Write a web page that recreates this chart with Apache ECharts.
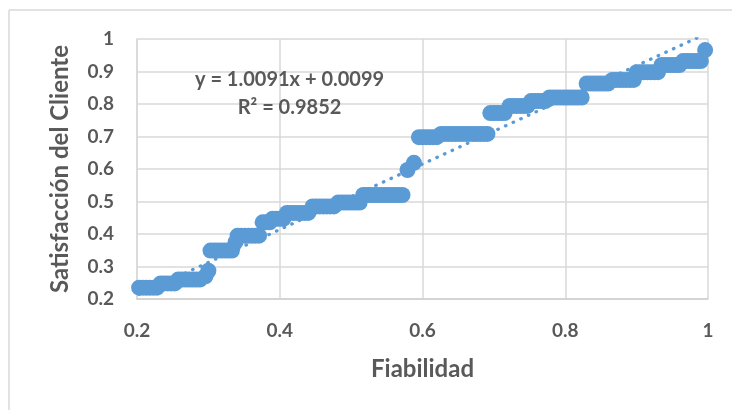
<!DOCTYPE html>
<html>
<head>
<meta charset="utf-8">
<script src="https://cdn.jsdelivr.net/npm/echarts@6/dist/echarts.min.js"></script>
<style>
html,body{margin:0;padding:0;background:#fff;}
#chart{width:732px;height:410px;}
</style>
</head>
<body>
<div id="chart"></div>
<script>
// Fiabilidad (x) values, grouped by step
const fiabilidad = [
  0.203,0.208,0.213,0.218,0.223,0.228,
  0.233,0.238,0.243,0.248,0.253,
  0.258,0.263,0.268,0.273,0.278,0.283,0.288,
  0.296,0.300,
  0.303,0.308,0.313,0.318,0.323,0.328,0.333,
  0.338,
  0.341,0.346,0.351,0.356,0.361,0.366,0.371,
  0.376,0.381,0.386,
  0.390,0.395,0.400,0.405,
  0.410,0.415,0.420,0.425,0.430,0.435,0.440,
  0.446,0.451,0.456,0.461,0.466,0.471,0.476,
  0.482,0.487,0.492,0.497,0.502,0.507,0.512,
  0.517,0.522,0.527,0.532,0.537,0.542,0.547,0.552,0.557,0.562,0.567,0.572,
  0.579,0.588,
  0.595,0.600,0.605,0.610,0.615,0.620,
  0.626,0.631,0.636,0.641,0.646,0.651,0.656,0.661,0.666,0.671,0.676,0.681,0.686,0.691,
  0.695,0.700,0.705,0.710,0.715,
  0.722,0.727,0.732,0.737,0.742,0.747,
  0.752,0.757,0.762,0.767,0.772,
  0.778,0.783,0.788,0.793,0.798,0.803,0.808,0.813,0.818,0.823,
  0.830,0.835,0.840,0.845,0.850,0.855,0.860,
  0.866,0.871,0.876,0.881,0.886,0.891,0.896,
  0.900,0.905,0.910,0.915,0.920,0.925,0.930,
  0.935,0.940,0.945,0.950,0.955,0.960,
  0.965,0.970,0.975,0.980,0.985,0.990,
  0.996
];
// Satisfacción del Cliente (y) values, same grouping
const satisfaccion = [
  0.235,0.235,0.235,0.235,0.235,0.235,
  0.248,0.248,0.248,0.248,0.248,
  0.260,0.260,0.260,0.260,0.260,0.260,0.260,
  0.270,0.287,
  0.349,0.349,0.349,0.349,0.349,0.349,0.349,
  0.375,
  0.395,0.395,0.395,0.395,0.395,0.395,0.395,
  0.436,0.436,0.436,
  0.447,0.447,0.447,0.447,
  0.465,0.465,0.465,0.465,0.465,0.465,0.465,
  0.485,0.485,0.485,0.485,0.485,0.485,0.485,
  0.497,0.497,0.497,0.497,0.497,0.497,0.497,
  0.520,0.520,0.520,0.520,0.520,0.520,0.520,0.520,0.520,0.520,0.520,0.520,
  0.597,0.619,
  0.698,0.698,0.698,0.698,0.698,0.698,
  0.708,0.708,0.708,0.708,0.708,0.708,0.708,0.708,0.708,0.708,0.708,0.708,0.708,0.708,
  0.772,0.772,0.772,0.772,0.772,
  0.794,0.794,0.794,0.794,0.794,0.794,
  0.809,0.809,0.809,0.809,0.809,
  0.820,0.820,0.820,0.820,0.820,0.820,0.820,0.820,0.820,0.820,
  0.863,0.863,0.863,0.863,0.863,0.863,0.863,
  0.874,0.874,0.874,0.874,0.874,0.874,0.874,
  0.898,0.898,0.898,0.898,0.898,0.898,0.898,
  0.920,0.920,0.920,0.920,0.920,0.920,
  0.932,0.932,0.932,0.932,0.932,0.932,
  0.966
];
// Linear trendline shown on the chart
const trendSlope = 1.0091;
const trendIntercept = 0.0099;
const trendLabel = ['y = 1.0091x + 0.0099', 'R² = 0.9852'];
const xTicks = [0.2, 0.4, 0.6, 0.8, 1];
const yTicks = [0.2, 0.3, 0.4, 0.5, 0.6, 0.7, 0.8, 0.9, 1];

const points = fiabilidad.map((x, i) => [x, satisfaccion[i]]);
const xMin = Math.min(...fiabilidad), xMax = Math.max(...fiabilidad);
const trend = [xMin, xMax].map(x => [x, trendSlope * x + trendIntercept]);

const BLUE = '#5B9BD5';
const TXT = '#595959';
const FONT = 'Lato';

const chart = echarts.init(document.getElementById('chart'), null, {renderer: 'canvas'});
chart.setOption({
  animation: false,
  backgroundColor: '#fff',
  grid: {left: 137, right: 24, top: 39, bottom: 111, containLabel: false},
  xAxis: {
    type: 'value', min: 0.2, max: 1, interval: 0.2,
    name: 'Fiabilidad', nameLocation: 'middle', nameGap: 58,
    nameTextStyle: {color: TXT, fontFamily: FONT, fontWeight: 'bold', fontSize: 24},
    axisLine: {show: true, lineStyle: {color: '#D0D0D0', width: 1.5}},
    axisTick: {show: false},
    axisLabel: {color: TXT, fontFamily: FONT, fontWeight: 'bold', fontSize: 19, margin: 22,
      formatter: v => xTicks.includes(+v.toFixed(2)) ? String(+v.toFixed(2)) : ''},
    splitLine: {show: true, lineStyle: {color: '#D9D9D9', width: 1.5}}
  },
  yAxis: {
    type: 'value', min: 0.2, max: 1, interval: 0.1,
    name: 'Satisfacción del Cliente', nameLocation: 'middle', nameGap: 65,
    nameTextStyle: {color: TXT, fontFamily: FONT, fontWeight: 'bold', fontSize: 24},
    axisLine: {show: true, lineStyle: {color: '#D9D9D9', width: 1.5}},
    axisTick: {show: false},
    axisLabel: {color: TXT, fontFamily: FONT, fontWeight: 'bold', fontSize: 19, margin: 23,
      formatter: v => yTicks.includes(+v.toFixed(2)) ? String(+v.toFixed(2)) : ''},
    splitLine: {show: true, lineStyle: {color: '#D9D9D9', width: 1.5}}
  },
  graphic: [
    {type: 'line', shape: {x1: 9, y1: 10, x2: 9, y2: 410}, style: {stroke: '#D9D9D9', lineWidth: 1.5}, silent: true},
    {type: 'line', shape: {x1: 9, y1: 10, x2: 732, y2: 10}, style: {stroke: '#D9D9D9', lineWidth: 1.5}, silent: true},
    {type: 'text', left: 195, top: 66, z: 10, style: {text: trendLabel[0] + '\n' + trendLabel[1], fill: TXT,
      font: 'bold 20px ' + FONT, textAlign: 'center', lineHeight: 28, x: 97}}
  ],
  series: [
    {
      type: 'scatter', data: points, symbol: 'circle', symbolSize: 16,
      itemStyle: {color: BLUE, opacity: 1}, z: 2
    },
    {
      type: 'line', data: trend, showSymbol: false, symbol: 'none', clip: true,
      lineStyle: {color: BLUE, width: 3.3, type: [0.5, 7.9], cap: 'round'}, z: 3
    }
  ]
});
</script>
</body>
</html>
